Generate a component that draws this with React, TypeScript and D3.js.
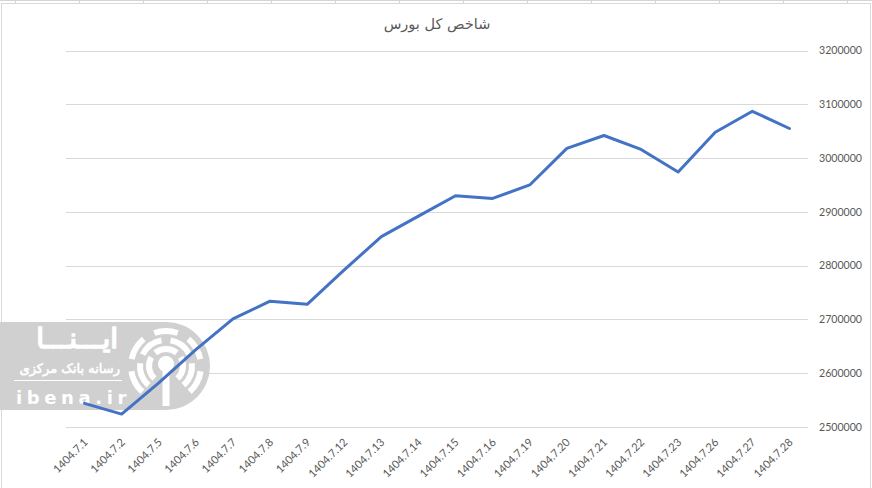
import React from "react";
import * as d3 from "d3";

const categories: string[] = [
  "1404.7.1", "1404.7.2", "1404.7.5", "1404.7.6", "1404.7.7", "1404.7.8", "1404.7.9",
  "1404.7.12", "1404.7.13", "1404.7.14", "1404.7.15", "1404.7.16", "1404.7.19", "1404.7.20",
  "1404.7.21", "1404.7.22", "1404.7.23", "1404.7.26", "1404.7.27", "1404.7.28",
];
const indexValues: number[] = [
  2544000, 2524000, 2582000, 2644000, 2701000, 2734000, 2728000,
  2792000, 2854000, 2892000, 2930000, 2925000, 2950000, 3018000,
  3042000, 3016000, 2974000, 3048000, 3087000, 3055000,
];
const yTicks: number[] = [2500000, 2600000, 2700000, 2800000, 2900000, 3000000, 3100000, 3200000];
const title = "شاخص کل بورس";

const W = 872;
const H = 488;
const plot = { left: 66, right: 808, top: 50.5, bottom: 427 };
const textColor = "#595959";
const gridColor = "#d9d9d9";
const lineColor = "#4472C4";
const font = "Lato, 'Open Sans', sans-serif";
const arabicFont = "'DejaVu Sans', 'Noto Sans', sans-serif";

export default function App() {
  const x = d3.scaleBand<string>().domain(categories).range([plot.left, plot.right]).padding(0);
  const y = d3.scaleLinear().domain([2500000, 3200000]).range([plot.bottom, plot.top]);
  const cx = (c: string) => (x(c) as number) + x.bandwidth() / 2;

  const line = d3
    .line<number>()
    .x((_, i) => cx(categories[i]))
    .y((d) => y(d));

  const sheetTicks = d3.range(15, W, 64);

  // watermark geometry
  const wm = { cx: 166, cy: 366, r: 44 };
  const arcGen = d3.arc();
  const ringArcs: { r: number; a0: number; a1: number }[] = [];
  const rings = [17, 26, 35];
  rings.forEach((r, ri) => {
    const segs = ri === 0 ? 3 : ri === 1 ? 4 : 5;
    const gap = 0.35;
    const start = -Math.PI * 0.82;
    const end = Math.PI * 0.82;
    const span = (end - start) / segs;
    for (let s = 0; s < segs; s++) {
      ringArcs.push({ r, a0: start + s * span + gap / 2, a1: start + (s + 1) * span - gap / 2 });
    }
  });

  return (
    <svg
      width={W}
      height={H}
      style={{ position: "fixed", left: 0, top: 0, background: "#fff" }}
      fontFamily={font}
    >
      <rect x={0} y={0} width={W} height={H} fill="#fff" />
      {/* spreadsheet remnants at top */}
      <line x1={0} x2={W} y1={0.5} y2={0.5} stroke="#d4d4d4" />
      {sheetTicks.map((t) => (
        <line key={t} x1={t + 0.5} x2={t + 0.5} y1={0} y2={3} stroke="#d4d4d4" />
      ))}
      {/* chart border */}
      <rect x={1.5} y={3.5} width={869} height={H} fill="#fff" stroke={gridColor} />

      {/* title */}
      <text x={437} y={29} textAnchor="middle" fontFamily={arabicFont} fontSize={14.5} fill={textColor}>
        {title}
      </text>

      {/* gridlines */}
      {yTicks.map((t) => (
        <line key={t} x1={plot.left} x2={plot.right} y1={Math.round(y(t)) + 0.5} y2={Math.round(y(t)) + 0.5} stroke={gridColor} strokeWidth={1} />
      ))}

      {/* y labels on right */}
      {yTicks.map((t) => (
        <text key={"l" + t} x={819} y={y(t)} dy="0.35em" fontSize={10.6} fill={textColor}>
          {String(t)}
        </text>
      ))}

      {/* x labels */}
      {categories.map((c) => (
        <text
          key={c}
          transform={`translate(${cx(c) + 4},${443}) rotate(-45)`}
          textAnchor="end"
          fontSize={11}
          fill={textColor}
        >
          {c}
        </text>
      ))}

      {/* watermark */}
      <g>
        <path
          d={`M0,${wm.cy - wm.r} H${wm.cx} A${wm.r},${wm.r} 0 0 1 ${wm.cx},${wm.cy + wm.r} H0 Z`}
          fill="#d0d0d0"
        />
        <g transform={`translate(${wm.cx},${wm.cy})`}>
          {ringArcs.map((a, i) => (
            <path
              key={i}
              d={arcGen({ innerRadius: a.r - 3, outerRadius: a.r + 3, startAngle: a.a0, endAngle: a.a1 }) as string}
              fill="#fff"
            />
          ))}
          <circle cx={0} cy={-2} r={8} fill="#fff" />
          <rect x={-3.5} y={0} width={7} height={40} fill="#fff" />
        </g>
        <text x={118} y={348} textAnchor="end" fontFamily={arabicFont} fontSize={28} fill="#fff" stroke="#fff" strokeWidth={1.6}>
          ایـــنـــا
        </text>
        <text x={120} y={373} textAnchor="end" fontFamily={arabicFont} fontSize={13} fill="#fff" stroke="#fff" strokeWidth={0.6}>
          رسانه بانک مرکزی
        </text>
        <line x1={14} x2={122} y1={380.5} y2={380.5} stroke="#fff" strokeWidth={1} />
        <text x={16} y={404} fontFamily={arabicFont} fontWeight="bold" fontSize={18} fill="#fff" letterSpacing={4.6}>
          ibena.ir
        </text>
      </g>

      {/* data line */}
      <path d={line(indexValues) as string} fill="none" stroke={lineColor} strokeWidth={3} strokeLinejoin="round" strokeLinecap="round" />
    </svg>
  );
}
